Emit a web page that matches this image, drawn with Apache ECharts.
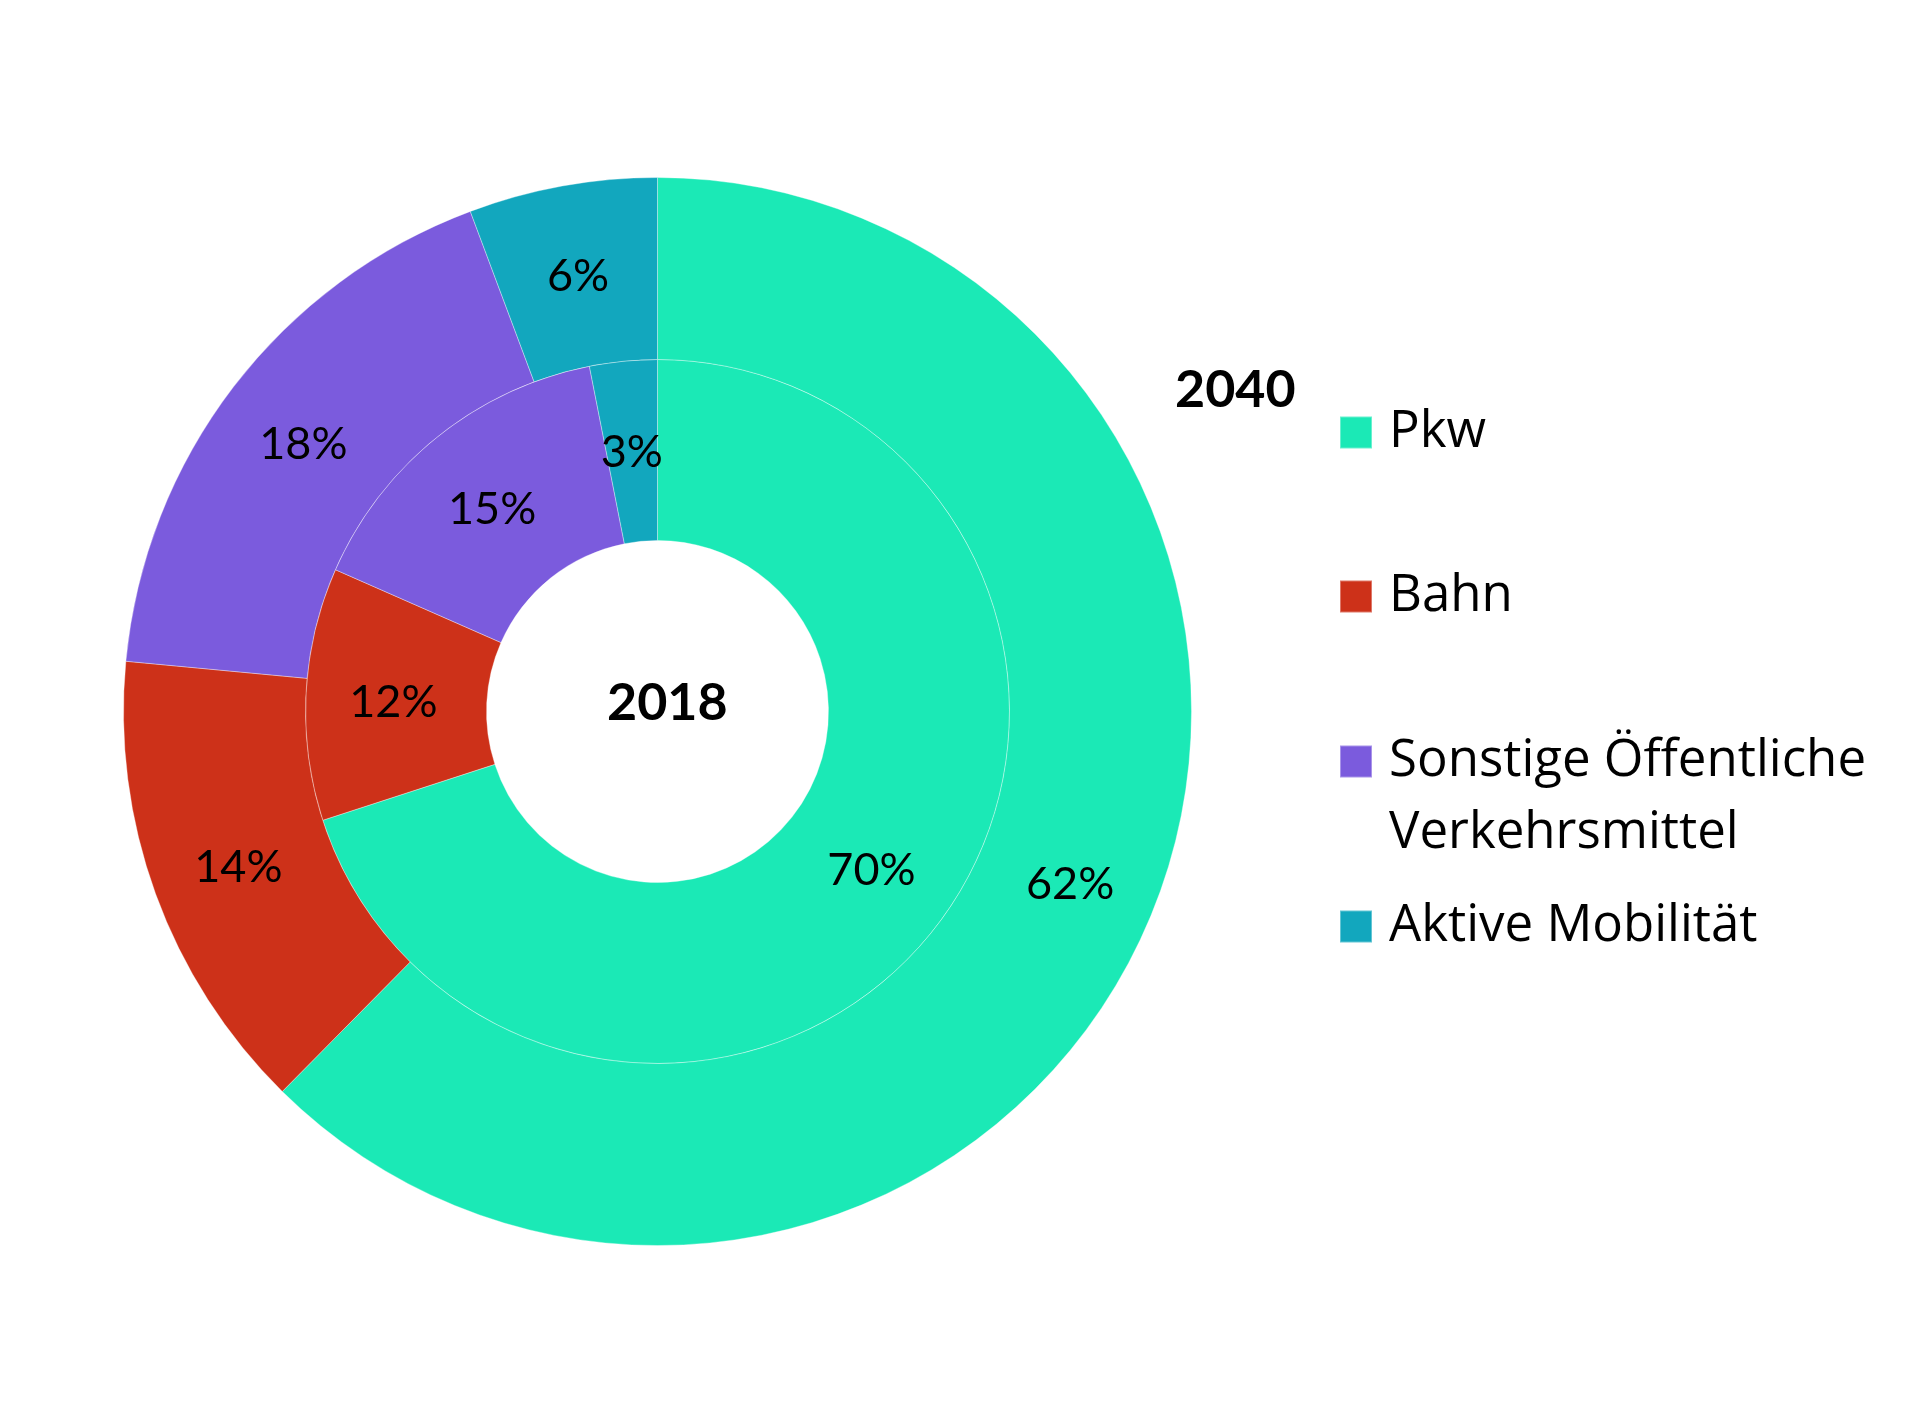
<!DOCTYPE html>
<html>
<head>
<meta charset="utf-8">
<script src="https://cdn.jsdelivr.net/npm/echarts@6/dist/echarts.min.js"></script>
<style>
html,body{margin:0;padding:0;background:#fff;}
#chart{width:1920px;height:1424px;}
</style>
</head>
<body>
<div id="chart"></div>
<script>
const categories = ['Pkw', 'Bahn', 'Sonstige Öffentliche\nVerkehrsmittel', 'Aktive Mobilität'];
const values2018 = [70, 11.6, 15.3, 3.1];
const values2040 = [62.4, 14.1, 17.8, 5.7];
const colors = ['#1BE9B6', '#CD3119', '#7B5BDD', '#12A7BE'];
const innerTitle = '2018';
const outerTitle = '2040';

const FONT = 'Lato';
const LEGEND_FONT = 'Open Sans';
const chart = echarts.init(document.getElementById('chart'), null, {renderer: 'canvas'});

const toData = vals => categories.map((c, i) => ({name: c, value: vals[i], itemStyle: {color: colors[i]}}));

const labelStyle = {
  show: true,
  position: 'inside',
  offset: [0, 4],
  formatter: p => Math.round(p.value) + '%',
  color: '#000',
  fontFamily: FONT,
  fontSize: 45,
  fontWeight: 'normal'
};

// top of each legend block (icon top minus text block overhang)
const legendTops = [407, 571, 664, 901];
const legends = categories.map((c, i) => {
  const multi = c.indexOf('\n') >= 0;
  return {
    data: [c],
    orient: 'vertical',
    left: 1339,
    top: legendTops[i],
    padding: 0,
    itemWidth: 32,
    itemHeight: 32,
    itemGap: 0,
    selectedMode: false,
    icon: 'rect',
    formatter: name => {
      const lines = name.split('\n').map(s => '{a|' + s + '}');
      if (multi) lines.unshift('{a| }');
      return lines.join('\n');
    },
    textStyle: {
      color: '#000',
      rich: {
        a: {fontFamily: LEGEND_FONT, fontSize: 51, lineHeight: 72, color: '#000', padding: [0, 0, 0, 12]}
      }
    }
  };
});

chart.setOption({
  backgroundColor: '#fff',
  animation: false,
  title: [
    {text: outerTitle, left: 1175, top: 364, padding: 0,
     textStyle: {fontFamily: FONT, fontWeight: 'bold', fontSize: 52, color: '#000'}},
    {text: innerTitle, left: 607, top: 677, padding: 0,
     textStyle: {fontFamily: FONT, fontWeight: 'bold', fontSize: 52, color: '#000'}}
  ],
  legend: legends,
  series: [
    {
      name: innerTitle,
      type: 'pie',
      center: [657.5, 711.5],
      radius: [171, 352],
      startAngle: 90,
      clockwise: true,
      avoidLabelOverlap: false,
      label: labelStyle,
      labelLine: {show: false},
      itemStyle: {borderColor: 'rgba(255,255,255,0.35)', borderWidth: 1},
      emphasis: {disabled: true},
      data: toData(values2018)
    },
    {
      name: outerTitle,
      type: 'pie',
      center: [657.5, 711.5],
      radius: [352, 534],
      startAngle: 90,
      clockwise: true,
      avoidLabelOverlap: false,
      label: labelStyle,
      labelLine: {show: false},
      itemStyle: {borderColor: 'rgba(255,255,255,0.35)', borderWidth: 1},
      emphasis: {disabled: true},
      data: toData(values2040)
    }
  ]
});
</script>
</body>
</html>
